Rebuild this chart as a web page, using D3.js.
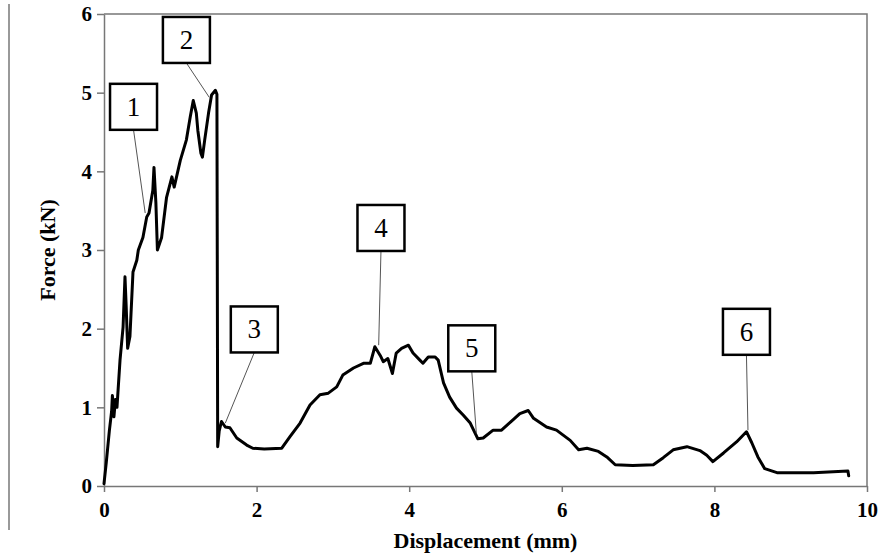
<!DOCTYPE html>
<html>
<head>
<meta charset="utf-8">
<script src="https://cdn.jsdelivr.net/npm/d3@7"></script>
<style>
  body { margin: 0; background: #fff; }
  svg { display: block; }
</style>
</head>
<body>
<div id="chart"></div>
<script>
// force-displacement curve (mm, kN)
var displacement = [0, 0.03, 0.07, 0.1, 0.11, 0.13, 0.15, 0.17, 0.21, 0.25, 0.275, 0.29, 0.31, 0.34, 0.38, 0.43,
  0.45, 0.51, 0.56, 0.59, 0.64, 0.655, 0.68, 0.7, 0.755, 0.82, 0.89, 0.92, 1.0, 1.08, 1.13, 1.17, 1.21, 1.23,
  1.27, 1.29, 1.32, 1.37, 1.41, 1.46, 1.48, 1.49, 1.51, 1.54, 1.59, 1.65, 1.74, 1.87, 1.95, 2.1, 2.33, 2.44,
  2.57, 2.7, 2.83, 2.94, 3.05, 3.13, 3.27, 3.4, 3.49, 3.55, 3.62, 3.66, 3.72, 3.78, 3.83, 3.9, 3.99, 4.05,
  4.14, 4.18, 4.25, 4.34, 4.38, 4.45, 4.53, 4.62, 4.71, 4.8, 4.9, 4.97, 5.1, 5.21, 5.36, 5.45, 5.56, 5.63,
  5.8, 5.93, 6.11, 6.22, 6.33, 6.48, 6.59, 6.7, 6.93, 7.2, 7.33, 7.46, 7.64, 7.81, 7.9, 7.98, 8.12, 8.29,
  8.42, 8.49, 8.57, 8.66, 8.82, 9.3, 9.75, 9.76];
var force = [0.03, 0.3, 0.7, 0.95, 1.15, 0.88, 1.1, 1.0, 1.6, 2.02, 2.66, 2.3, 1.75, 1.9, 2.72, 2.87,
  3.0, 3.16, 3.42, 3.47, 3.76, 4.05, 3.6, 3.0, 3.16, 3.67, 3.93, 3.8, 4.14, 4.4, 4.69, 4.9, 4.74, 4.52,
  4.23, 4.18, 4.4, 4.74, 4.97, 5.03, 4.98, 0.5, 0.7, 0.82, 0.75, 0.74, 0.61, 0.52, 0.48, 0.47, 0.48, 0.63,
  0.8, 1.03, 1.16, 1.18, 1.26, 1.41, 1.5, 1.56, 1.56, 1.77, 1.66, 1.58, 1.62, 1.43, 1.69, 1.75, 1.79, 1.69,
  1.6, 1.56, 1.64, 1.64, 1.6, 1.31, 1.13, 0.99, 0.9, 0.8, 0.6, 0.61, 0.71, 0.71, 0.84, 0.92, 0.96, 0.86,
  0.75, 0.71, 0.58, 0.46, 0.48, 0.44, 0.37, 0.27, 0.26, 0.27, 0.36, 0.46, 0.5, 0.45, 0.39, 0.31, 0.42, 0.56,
  0.69, 0.55, 0.37, 0.22, 0.17, 0.17, 0.19, 0.13];

var xTicks = [0, 2, 4, 6, 8, 10];
var yTicks = [0, 1, 2, 3, 4, 5, 6];

// numbered callouts: point on curve and box centre, in data units
var annLabels = ['1', '2', '3', '4', '5', '6'];
var annX = [0.54, 1.38, 1.59, 3.6, 4.88, 8.44];
var annY = [3.47, 4.94, 0.8, 1.79, 0.67, 0.71];
var boxX = [0.387, 1.08, 1.97, 3.63, 4.82, 8.42];
var boxY = [4.82, 5.67, 1.99, 3.28, 1.75, 1.96];

var chart_width = 880, chart_height = 556;
var plotLeft = 104, plotRight = 867, plotTop = 14, plotBottom = 486;
var serif = '"Liberation Serif", "Times New Roman", serif';

var svg = d3.select('#chart').append('svg')
    .attr('width', chart_width)
    .attr('height', chart_height);

var x = d3.scaleLinear().domain([0, 10]).range([plotLeft, plotRight]);
var y = d3.scaleLinear().domain([0, 6]).range([plotBottom, plotTop]);

// figure border line on the far left
svg.append('line')
    .attr('x1', 9).attr('x2', 9).attr('y1', 4).attr('y2', 530)
    .attr('stroke', '#777').attr('stroke-width', 1.5);

// top and right frame
svg.append('path')
    .attr('d', 'M' + plotLeft + ',' + plotTop + 'H' + plotRight + 'V' + plotBottom)
    .attr('fill', 'none').attr('stroke', '#777').attr('stroke-width', 1.5);

var xAxis = svg.append('g')
    .attr('transform', 'translate(0,' + plotBottom + ')')
    .call(d3.axisBottom(x).tickValues(xTicks).tickFormat(d3.format('d'))
        .tickSize(6).tickSizeOuter(0).tickPadding(10));
var yAxis = svg.append('g')
    .attr('transform', 'translate(' + plotLeft + ',0)')
    .call(d3.axisLeft(y).tickValues(yTicks).tickFormat(d3.format('d'))
        .tickSize(7).tickSizeOuter(0).tickPadding(5));

[xAxis, yAxis].forEach(function(g) {
    g.attr('font-family', serif).attr('font-size', 21).attr('font-weight', 'bold');
    g.select('.domain').attr('stroke', '#777').attr('stroke-width', 1.5);
    g.selectAll('.tick line').attr('stroke', '#777').attr('stroke-width', 1.5);
    g.selectAll('.tick text').attr('fill', '#000');
});

// axis titles
svg.append('text')
    .text('Displacement (mm)')
    .attr('x', (plotLeft + plotRight) / 2)
    .attr('y', 548)
    .attr('text-anchor', 'middle')
    .attr('font-family', serif)
    .attr('font-weight', 'bold')
    .attr('font-size', 22);

svg.append('text')
    .text('Force (kN)')
    .attr('transform', 'translate(55,' + (plotTop + plotBottom) / 2 + ') rotate(-90)')
    .attr('text-anchor', 'middle')
    .attr('font-family', serif)
    .attr('font-weight', 'bold')
    .attr('font-size', 22);

// curve
var pts = displacement.map(function(d, i) { return [d, force[i]]; });
var line = d3.line()
    .x(function(d) { return x(d[0]); })
    .y(function(d) { return y(d[1]); });

svg.append('path')
    .datum(pts)
    .attr('d', line)
    .attr('fill', 'none')
    .attr('stroke', '#000')
    .attr('stroke-width', 3)
    .attr('stroke-linejoin', 'round')
    .attr('stroke-linecap', 'round');

// callouts
var boxW = 47, boxH = 46;
var ann = svg.selectAll('g.ann')
    .data(annLabels)
    .enter()
    .append('g')
    .attr('class', 'ann');

ann.append('line')
    .attr('x1', function(d, i) { return x(boxX[i]); })
    .attr('y1', function(d, i) { return y(boxY[i]) + boxH / 2; })
    .attr('x2', function(d, i) { return x(annX[i]); })
    .attr('y2', function(d, i) { return y(annY[i]); })
    .attr('stroke', '#555')
    .attr('stroke-width', 1);

ann.append('rect')
    .attr('x', function(d, i) { return x(boxX[i]) - boxW / 2; })
    .attr('y', function(d, i) { return y(boxY[i]) - boxH / 2; })
    .attr('width', boxW)
    .attr('height', boxH)
    .attr('fill', '#fff')
    .attr('stroke', '#000')
    .attr('stroke-width', 2.5);

ann.append('text')
    .text(function(d) { return d; })
    .attr('x', function(d, i) { return x(boxX[i]); })
    .attr('y', function(d, i) { return y(boxY[i]) + 9; })
    .attr('text-anchor', 'middle')
    .attr('font-family', serif)
    .attr('font-size', 27);
</script>
</body>
</html>
